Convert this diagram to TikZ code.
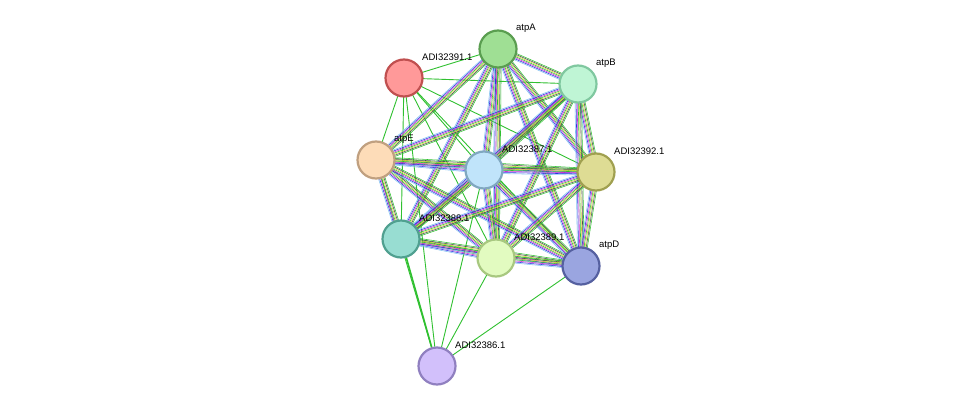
\documentclass[tikz,border=0pt]{standalone}
\usepackage{fontspec}
\setsansfont{Liberation Sans}
\tikzset{every picture/.style={/utils/exec={\sffamily}}}
\usetikzlibrary{calc}
\definecolor{eblue}{HTML}{3030E0}
\definecolor{emag}{HTML}{D030D0}
\definecolor{egreen}{HTML}{30C030}
\definecolor{eyel}{HTML}{D0D030}
\definecolor{ecyan}{HTML}{80C0F0}
% node fill / border colours
\definecolor{fA}{HTML}{9FDF94}\definecolor{bA}{HTML}{5A9E50}
\definecolor{f391}{HTML}{FF9999}\definecolor{b391}{HTML}{C05050}
\definecolor{fB}{HTML}{BFF5D5}\definecolor{bB}{HTML}{80C8A0}
\definecolor{fE}{HTML}{FDDCB8}\definecolor{bE}{HTML}{C0A080}
\definecolor{f387}{HTML}{C0E4FA}\definecolor{b387}{HTML}{80A8C0}
\definecolor{f392}{HTML}{DEDC94}\definecolor{b392}{HTML}{A0A050}
\definecolor{f388}{HTML}{98DDD2}\definecolor{b388}{HTML}{50A090}
\definecolor{f389}{HTML}{E2FBC0}\definecolor{b389}{HTML}{A8C880}
\definecolor{fD}{HTML}{9AA5E0}\definecolor{bD}{HTML}{5560A0}
\definecolor{f386}{HTML}{D2C0FB}\definecolor{b386}{HTML}{9080C0}
\tikzset{x=1pt, y=-1pt,
  prot/.style={circle, minimum size=37pt, inner sep=0pt, line width=2.2pt},
  plabel/.style={anchor=west, font=\fontsize{9.5}{11}\selectfont, inner sep=1pt},
  single/.style={draw=egreen, line width=0.9pt}}
% multi-evidence connector
\newcommand{\multiedge}[2]{%
  \foreach \off/\col in {-3.3/ecyan, -2.2/eblue, -1.1/emag, 0/egreen, 1.1/eyel, 2.2/black!70, 3.3/egreen}{%
    \draw[\col, line width=0.55pt] ($(#1)!\off pt!90:(#2)$) -- ($(#2)!\off pt!-90:(#1)$);}}
\begin{document}
\begin{tikzpicture}
  \useasboundingbox (0,0) rectangle (976,412);

  \coordinate (atpA) at (498,49);
  \coordinate (a391) at (404,78);
  \coordinate (atpB) at (578,84);
  \coordinate (atpE) at (376,160);
  \coordinate (a387) at (484,170);
  \coordinate (a392) at (596,172);
  \coordinate (a388) at (401,239);
  \coordinate (a389) at (496,258);
  \coordinate (atpD) at (581,266);
  \coordinate (a386) at (437,366);

  % green-only links
  \foreach \n in {atpA, atpB, atpE, a387, a392, a388, a389, atpD}
    \draw[single] (a391) -- (\n);
  \foreach \n in {a391, atpE, a387, a389, atpD}
    \draw[single] (a386) -- (\n);
  \draw[single, line width=1.6pt] (a386) -- (a388);

  % core links
  \foreach \a/\b in {atpA/atpB, atpA/atpE, atpA/a387, atpA/a392, atpA/a388, atpA/a389, atpA/atpD,
      atpB/atpE, atpB/a387, atpB/a392, atpB/a388, atpB/a389, atpB/atpD,
      atpE/a387, atpE/a392, atpE/a388, atpE/a389, atpE/atpD,
      a387/a392, a387/a388, a387/a389, a387/atpD,
      a392/a388, a392/a389, a392/atpD,
      a388/a389, a388/atpD, a389/atpD}
    \multiedge{\a}{\b};

  \foreach \n/\c in {atpA/A, a391/391, atpB/B, atpE/E, a387/387, a392/392,
      a388/388, a389/389, atpD/D, a386/386}
    \node[prot, fill=f\c, draw=b\c] (n\n) at (\n) {};

  \foreach \n/\t in {atpA/atpA, a391/ADI32391.1, atpB/atpB, atpE/atpE, a387/ADI32387.1,
      a392/ADI32392.1, a388/ADI32388.1, a389/ADI32389.1, atpD/atpD, a386/ADI32386.1}
    \node[plabel] (l\n) at ($(\n)+(17,-21)$) {\t};
\end{tikzpicture}
\end{document}
